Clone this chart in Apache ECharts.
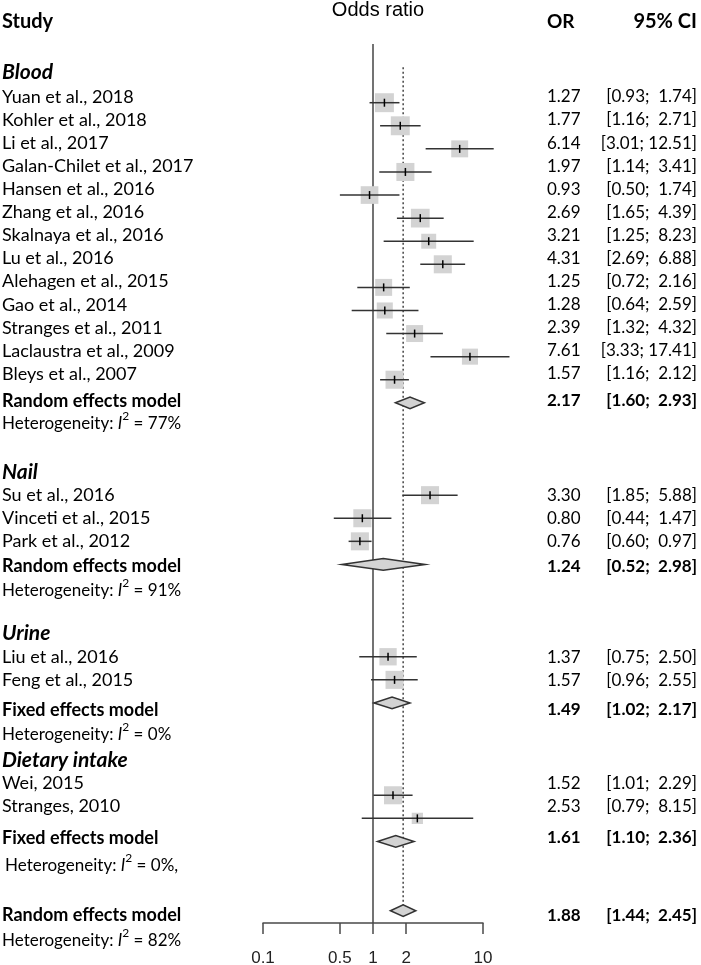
<!DOCTYPE html>
<html><head><meta charset="utf-8">
<script src="https://cdn.jsdelivr.net/npm/echarts@6/dist/echarts.min.js"></script>
<style>html,body{margin:0;padding:0;background:#fff}#c{width:701px;height:965px}</style>
</head><body><div id="c"></div>
<script>
// ---------- data ----------
const bloodStudies = ['Yuan et al., 2018','Kohler et al., 2018','Li et al., 2017','Galan-Chilet et al., 2017','Hansen et al., 2016','Zhang et al., 2016','Skalnaya et al., 2016','Lu et al., 2016','Alehagen et al., 2015','Gao et al., 2014','Stranges et al., 2011','Laclaustra et al., 2009','Bleys et al., 2007'];
const bloodOR    = [1.27,1.77,6.14,1.97,0.93,2.69,3.21,4.31,1.25,1.28,2.39,7.61,1.57];
const bloodLower = [0.93,1.16,3.01,1.14,0.50,1.65,1.25,2.69,0.72,0.64,1.32,3.33,1.16];
const bloodUpper = [1.74,2.71,12.51,3.41,1.74,4.39,8.23,6.88,2.16,2.59,4.32,17.41,2.12];
const bloodWeight= [8.5,8.5,6.8,7.7,7.4,8.3,5.3,7.7,6.8,6.1,6.8,6.1,7.7];

const nailStudies = ['Su et al., 2016','Vinceti et al., 2015','Park et al., 2012'];
const nailOR    = [3.30,0.80,0.76];
const nailLower = [1.85,0.44,0.60];
const nailUpper = [5.88,1.47,0.97];
const nailWeight= [7.7,7.7,7.7];

const urineStudies = ['Liu et al., 2016','Feng et al., 2015'];
const urineOR    = [1.37,1.57];
const urineLower = [0.75,0.96];
const urineUpper = [2.50,2.55];
const urineWeight= [7.1,7.7];

const dietStudies = ['Wei, 2015','Stranges, 2010'];
const dietOR    = [1.52,2.53];
const dietLower = [1.01,0.79];
const dietUpper = [2.29,8.15];
const dietWeight= [7.7,3.0];

const groupNames  = ['Blood','Nail','Urine','Dietary intake'];
const groupModels = ['Random effects model','Random effects model','Fixed effects model','Fixed effects model'];
const pooledOR    = [2.17,1.24,1.49,1.61];
const pooledLower = [1.60,0.52,1.02,1.10];
const pooledUpper = [2.93,2.98,2.17,2.36];
const groupI2     = ['77%','91%','0%','0%,'];

const overallModel = 'Random effects model';
const overallOR = 1.88, overallLower = 1.44, overallUpper = 2.45, overallI2 = '82%';

const xTicks = [0.1,0.5,1,2,10];

// ---------- layout ----------
const rowPx = 23.086, firstRowY = 102.7;
const yMin = -3, yMax = 35.53;
// text shifts (in rows) per group: header, studies, model, heterogeneity
const textShift = [[-0.3,-0.25,-0.09,-0.2],[0,0,0.07,0.02],[0,0.03,0.3,0.25],[-0.53,-0.53,-0.15,-0.05]];
const overallShift = [0.19,0.17];
const colLeft = 2, colOR = 547, colCI = 697;
const diamondHalf = 5.8;
const F = 'Lato';

const groupData = [
  [bloodStudies,bloodOR,bloodLower,bloodUpper,bloodWeight],
  [nailStudies,nailOR,nailLower,nailUpper,nailWeight],
  [urineStudies,urineOR,urineLower,urineUpper,urineWeight],
  [dietStudies,dietOR,dietLower,dietUpper,dietWeight]
];

const fmt = v => v.toFixed(2);
const ciText = (lo,hi) => '[' + fmt(lo) + '; ' + (hi < 10 ? ' ' : '') + fmt(hi) + ']';

const studyPts = [];   // [or, row, lo, hi, weight]
const diamonds = [];   // [est, row, lo, hi]
const texts = [];

function addText(x,row,text,align,size,weight,style,rich){
  texts.push({x,row,text,align,size,weight,style,rich});
}
function hetRich(val){
  return {text:'{a|Heterogeneity: }{i|I}{s|2}{a| = ' + val + '}',
    rich:{a:{fontFamily:F,fontSize:17,lineHeight:22,fill:'#000',verticalAlign:'bottom'},
          i:{fontFamily:F,fontSize:17,lineHeight:22,fontStyle:'italic',fill:'#000',verticalAlign:'bottom'},
          s:{fontFamily:F,fontSize:12,lineHeight:12,fill:'#000',verticalAlign:'top'}}};
}

let r = -1;
groupData.forEach((g,gi) => {
  const [names,ors,los,his,ws] = g;
  const sh = textShift[gi];
  addText(colLeft, r + sh[0], groupNames[gi], 'left', 21, 'bold', 'italic');
  names.forEach((n,i) => {
    const row = r + 1 + i;
    studyPts.push([ors[i], row, los[i], his[i], ws[i]]);
    addText(colLeft, row + sh[1], n, 'left', 18, 'normal', 'normal');
    addText(colOR, row + sh[1], fmt(ors[i]), 'left', 17, 'normal', 'normal');
    addText(colCI, row + sh[1], ciText(los[i],his[i]), 'right', 17, 'normal', 'normal');
  });
  const mRow = r + 1 + names.length;
  diamonds.push([pooledOR[gi], mRow, pooledLower[gi], pooledUpper[gi]]);
  addText(colLeft, mRow + sh[2], groupModels[gi], 'left', 18, 'bold', 'normal');
  addText(colOR, mRow + sh[2], fmt(pooledOR[gi]), 'left', 17, 'bold', 'normal');
  addText(colCI, mRow + sh[2], ciText(pooledLower[gi],pooledUpper[gi]), 'right', 17, 'bold', 'normal');
  const h = hetRich(groupI2[gi]);
  addText(colLeft + (gi===3?3:0), mRow + 1 + sh[3], h.text, 'left', 17, 'normal', 'normal', h.rich);
  r = mRow + 3;
});
const overallRow = r;
diamonds.push([overallOR, overallRow, overallLower, overallUpper]);
addText(colLeft, overallRow + overallShift[0], overallModel, 'left', 18, 'bold', 'normal');
addText(colOR, overallRow + overallShift[0], fmt(overallOR), 'left', 17, 'bold', 'normal');
addText(colCI, overallRow + overallShift[0], ciText(overallLower,overallUpper), 'right', 17, 'bold', 'normal');
const oh = hetRich(overallI2);
addText(colLeft, overallRow + 1 + overallShift[1], oh.text, 'left', 17, 'normal', 'normal', oh.rich);

// headers
const headRow = -3.5;
addText(colLeft, headRow, 'Study', 'left', 20, 'bold', 'normal');
addText(colOR, headRow, 'OR', 'left', 19, 'bold', 'normal');
addText(colCI, headRow, '95% CI', 'right', 20, 'bold', 'normal');

const chart = echarts.init(document.getElementById('c'), null, {renderer:'canvas'});
const gridTop = firstRowY + yMin*rowPx;
const gridH = (yMax - yMin)*rowPx;

chart.setOption({
  animation:false,
  backgroundColor:'#fff',
  title:{text:'Odds ratio', left:373, top:-5, textAlign:'center',
    textStyle:{fontFamily:'Liberation Sans', fontSize:20, fontWeight:'normal', color:'#000'}},
  grid:{left:263, width:220, top:gridTop, height:gridH, containLabel:false, outerBoundsMode:'none'},
  xAxis:{type:'log', logBase:10, min:0.1, max:10, splitLine:{show:false},
    axisLine:{show:true, onZero:false, lineStyle:{color:'#4a4a4a', width:1.5}},
    axisTick:{show:true, length:11, customValues:xTicks, lineStyle:{color:'#4a4a4a', width:1.5}},
    axisLabel:{show:true, margin:27, customValues:xTicks, formatter: v => String(v),
      fontFamily:'Liberation Sans', fontSize:17, color:'#222'},
    minorTick:{show:false}
  },
  yAxis:{type:'value', min:yMin, max:yMax, inverse:true, show:false},
  series:[
    {type:'line', data:[[1,-2.54],[1,yMax]], symbol:'none', silent:true, z:1,
      lineStyle:{color:'#444', width:1.5}},
    {type:'line', data:[[overallOR,-1.54],[overallOR,overallRow - diamondHalf/rowPx]], symbol:'none', silent:true, z:1,
      lineStyle:{color:'#444', width:1.5, type:[2,2.5]}},
    {type:'custom', silent:true, z:3, data:studyPts, encode:{x:0,y:1},
      renderItem:(params,api) => {
        const row = api.value(1);
        const p = api.coord([api.value(0),row]);
        const l = api.coord([api.value(2),row]);
        const h = api.coord([api.value(3),row]);
        const s = 6.5*Math.sqrt(api.value(4));
        return {type:'group', children:[
          {type:'rect', shape:{x:p[0]-s/2, y:p[1]-s/2, width:s, height:s}, style:{fill:'#d3d3d3'}},
          {type:'line', shape:{x1:l[0], y1:p[1], x2:h[0], y2:p[1]}, style:{stroke:'#333', lineWidth:1.5}},
          {type:'line', shape:{x1:p[0], y1:p[1]-4, x2:p[0], y2:p[1]+4}, style:{stroke:'#000', lineWidth:1.5}}
        ]};
      }},
    {type:'custom', silent:true, z:3, data:diamonds, encode:{x:0,y:1},
      renderItem:(params,api) => {
        const row = api.value(1);
        const e = api.coord([api.value(0),row]);
        const l = api.coord([api.value(2),row]);
        const h = api.coord([api.value(3),row]);
        return {type:'polygon', shape:{points:[[l[0],e[1]],[e[0],e[1]-diamondHalf],[h[0],e[1]],[e[0],e[1]+diamondHalf]]},
          style:{fill:'#d3d3d3', stroke:'#333', lineWidth:1.5}};
      }},
    {type:'custom', silent:true, z:5, data:texts.map(t => [1,t.row]), encode:{x:0,y:1},
      renderItem:(params,api) => {
        const t = texts[params.dataIndex];
        const y = api.coord([1,api.value(1)])[1];
        const st = {text:t.text, x:0, y:0, fill:'#000', fontFamily:F, fontSize:t.size,
          fontWeight:t.weight, fontStyle:t.style, align:t.align, verticalAlign:'middle'};
        if (t.rich) st.rich = t.rich;
        return {type:'text', x:t.x, y:y, style:st};
      }}
  ]
});
</script></body></html>
